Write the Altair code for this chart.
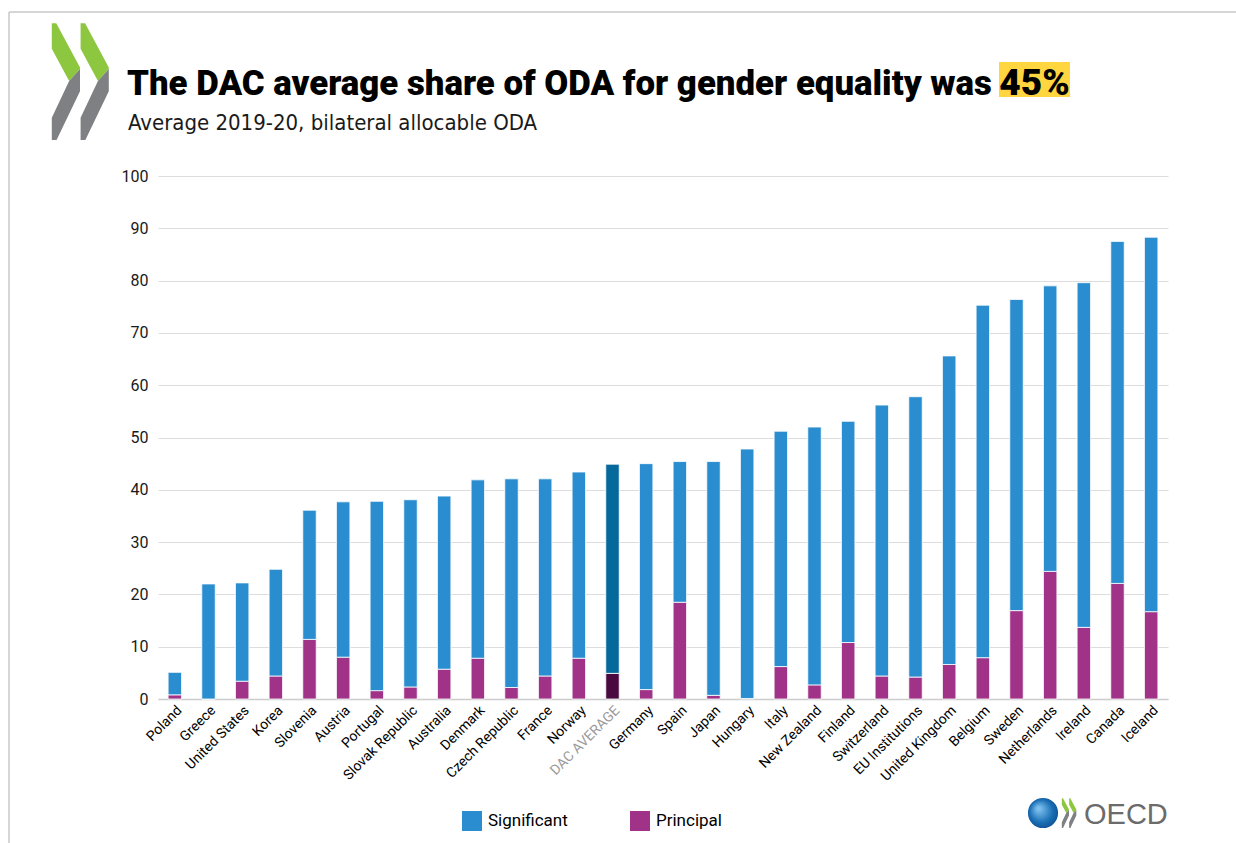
import altair as alt
import pandas as pd

# ---- data ----
countries = ["Poland", "Greece", "United States", "Korea", "Slovenia", "Austria", "Portugal",
             "Slovak Republic", "Australia", "Denmark", "Czech Republic", "France", "Norway",
             "DAC AVERAGE", "Germany", "Spain", "Japan", "Hungary", "Italy", "New Zealand",
             "Finland", "Switzerland", "EU Institutions", "United Kingdom", "Belgium", "Sweden",
             "Netherlands", "Ireland", "Canada", "Iceland"]
principal = [0.8, 0.0, 3.4, 4.4, 11.4, 8.0, 1.6, 2.3, 5.7, 7.8, 2.2, 4.4, 7.8, 4.9, 1.8, 18.5,
             0.7, 0.1, 6.2, 2.7, 10.8, 4.4, 4.2, 6.6, 7.9, 16.9, 24.4, 13.7, 22.1, 16.7]
significant = [4.3, 22.0, 18.8, 20.4, 24.7, 29.7, 36.2, 35.8, 33.1, 34.1, 39.9, 37.7, 35.6, 40.0,
               43.2, 26.9, 44.7, 47.7, 45.0, 49.3, 42.3, 51.8, 53.6, 59.0, 67.4, 59.5, 54.6, 65.9,
               65.4, 71.6]
y_ticks = [0, 10, 20, 30, 40, 50, 60, 70, 80, 90, 100]

series_names = ["Significant", "Principal"]
color_domain = ["Significant", "Principal", "Significant DAC", "Principal DAC"]
color_range = ["#2A8DCF", "#A03388", "#05699B", "#4A0A40"]

rows = []
for c, p, s in zip(countries, principal, significant):
    suffix = " DAC" if c == "DAC AVERAGE" else ""
    rows.append({"country": c, "type": "Principal", "key": "Principal" + suffix, "value": p, "ord": 0})
    rows.append({"country": c, "type": "Significant", "key": "Significant" + suffix, "value": s, "ord": 1})
df = pd.DataFrame(rows)
dummy = pd.DataFrame({"a": [1]})

ROBOTO = "Roboto, 'DejaVu Sans', sans-serif"
COND = "'DejaVu Sans Condensed', 'DejaVu Sans', sans-serif"
PLAIN = "'Liberation Sans', Arial, sans-serif"

W, H = 1010, 523
OX, OY = 158, 176  # plot origin in page pixels

bars = alt.Chart(df).mark_bar(stroke="white", strokeWidth=0.8).encode(
    x=alt.X("country:N", sort=countries,
            scale=alt.Scale(paddingInner=0.6, paddingOuter=0.3),
            axis=alt.Axis(title=None, labelAngle=-45, labelFontSize=14, labelFont=ROBOTO,
                          labelColor=alt.ExprRef("datum.value == 'DAC AVERAGE' ? '#9a9a9a' : '#000000'"),
                          ticks=False, domainColor="#cccccc", domainWidth=1.5, labelPadding=4)),
    y=alt.Y("value:Q", stack="zero",
            scale=alt.Scale(domain=[0, 100], nice=False),
            axis=alt.Axis(title=None, values=y_ticks, grid=True, gridColor="#dddddd", gridWidth=1.2,
                          domain=False, ticks=False, labelFontSize=16, labelFont=ROBOTO,
                          labelColor="#1a1a1a", labelPadding=10)),
    color=alt.Color("key:N",
                    scale=alt.Scale(domain=color_domain, range=color_range),
                    legend=alt.Legend(title=None, values=series_names, orient="none",
                                      legendX=462 - OX, legendY=811 - OY, direction="horizontal",
                                      symbolType="square", symbolSize=400, symbolStrokeWidth=0,
                                      labelFontSize=17, labelFont=ROBOTO, labelColor="#000000",
                                      labelOffset=6, columnPadding=62)),
    order=alt.Order("ord:Q", sort="ascending"),
)

def tx(text, x, y, size, weight="normal", font=ROBOTO, color="#000000", align="left"):
    return alt.Chart(dummy).mark_text(text=text, align=align, baseline="alphabetic", font=font,
                                      fontSize=size, fontWeight=weight, color=color).encode(
        x=alt.value(x - OX), y=alt.value(y - OY))

highlight = alt.Chart(dummy).mark_rect(color="#FFD640").encode(
    x=alt.value(999 - OX), x2=alt.value(1070 - OX), y=alt.value(62 - OY), y2=alt.value(97 - OY))

title = tx("The DAC average share of ODA for gender equality was", 127, 95, 34.8, weight=900)
title45 = tx("45%", 1034.5, 95, 37, weight=900, align="center")
subtitle = tx("Average 2019-20, bilateral allocable ODA", 128, 130, 22, font=COND, color="#1a1a1a")

# frame lines
frame_top = alt.Chart(dummy).mark_rule(color="#c8c8c8", strokeWidth=1.5).encode(
    x=alt.value(9 - OX), x2=alt.value(1236 - OX), y=alt.value(12 - OY))
frame_left = alt.Chart(dummy).mark_rule(color="#c8c8c8", strokeWidth=1.5).encode(
    x=alt.value(9 - OX), y=alt.value(12 - OY), y2=alt.value(843 - OY))

# OECD chevrons (custom symbol paths in the -1..1 box)
GREEN_PATH = ("M-0.478,-0.978 L-0.402,-0.978 L0,-0.229 L0,-0.202 L-0.184,0 L-0.478,-0.547 Z "
              "M0.010,-0.978 L0.086,-0.978 L0.488,-0.229 L0.488,-0.202 L0.304,0 L0.010,-0.547 Z")
GRAY_PATH = ("M-0.184,0 L0,-0.202 L0,0.172 L-0.397,1 L-0.478,1 L-0.478,0.621 Z "
             "M0.304,0 L0.488,-0.202 L0.488,0.172 L0.091,1 L0.010,1 L0.010,0.621 Z")

def chevrons(cx, cy, side):
    g = alt.Chart(dummy).mark_point(shape=GREEN_PATH, size=side * side, filled=True, opacity=1,
                                    color="#8DC63F", strokeWidth=0).encode(
        x=alt.value(cx - OX), y=alt.value(cy - OY))
    k = alt.Chart(dummy).mark_point(shape=GRAY_PATH, size=side * side, filled=True, opacity=1,
                                    color="#7F8083", strokeWidth=0).encode(
        x=alt.value(cx - OX), y=alt.value(cy - OY))
    return g + k

big_logo = chevrons(80, 81, 118)
small_logo = chevrons(1069, 813, 30)

globe = alt.Chart(dummy).mark_circle(
    size=3.1416 * 17 * 17, opacity=1,
    fill=alt.RadialGradient(gradient="radial", x1=0.35, y1=0.35, r1=0.05, x2=0.5, y2=0.5, r2=0.6,
                            stops=[alt.GradientStop(color="#7cc0ee", offset=0),
                                   alt.GradientStop(color="#1a6fb5", offset=0.6),
                                   alt.GradientStop(color="#0b4a8a", offset=1)])).encode(
    x=alt.value(1043 - OX), y=alt.value(813 - OY))
oecd_text = tx("OECD", 1084, 824, 29, font=PLAIN, color="#6b6b6b")

chart = alt.layer(
    frame_top, frame_left, highlight, bars, title, title45, subtitle,
    big_logo, globe, small_logo, oecd_text
).properties(
    width=W, height=H,
    autosize=alt.AutoSizeParams(type="none"),
    padding={"left": OX, "top": OY, "right": 1236 - OX - W, "bottom": 843 - OY - H},
).configure(background="white").configure_view(strokeWidth=0)

chart.save("out.html", embed_options={"renderer": "svg", "actions": False})
